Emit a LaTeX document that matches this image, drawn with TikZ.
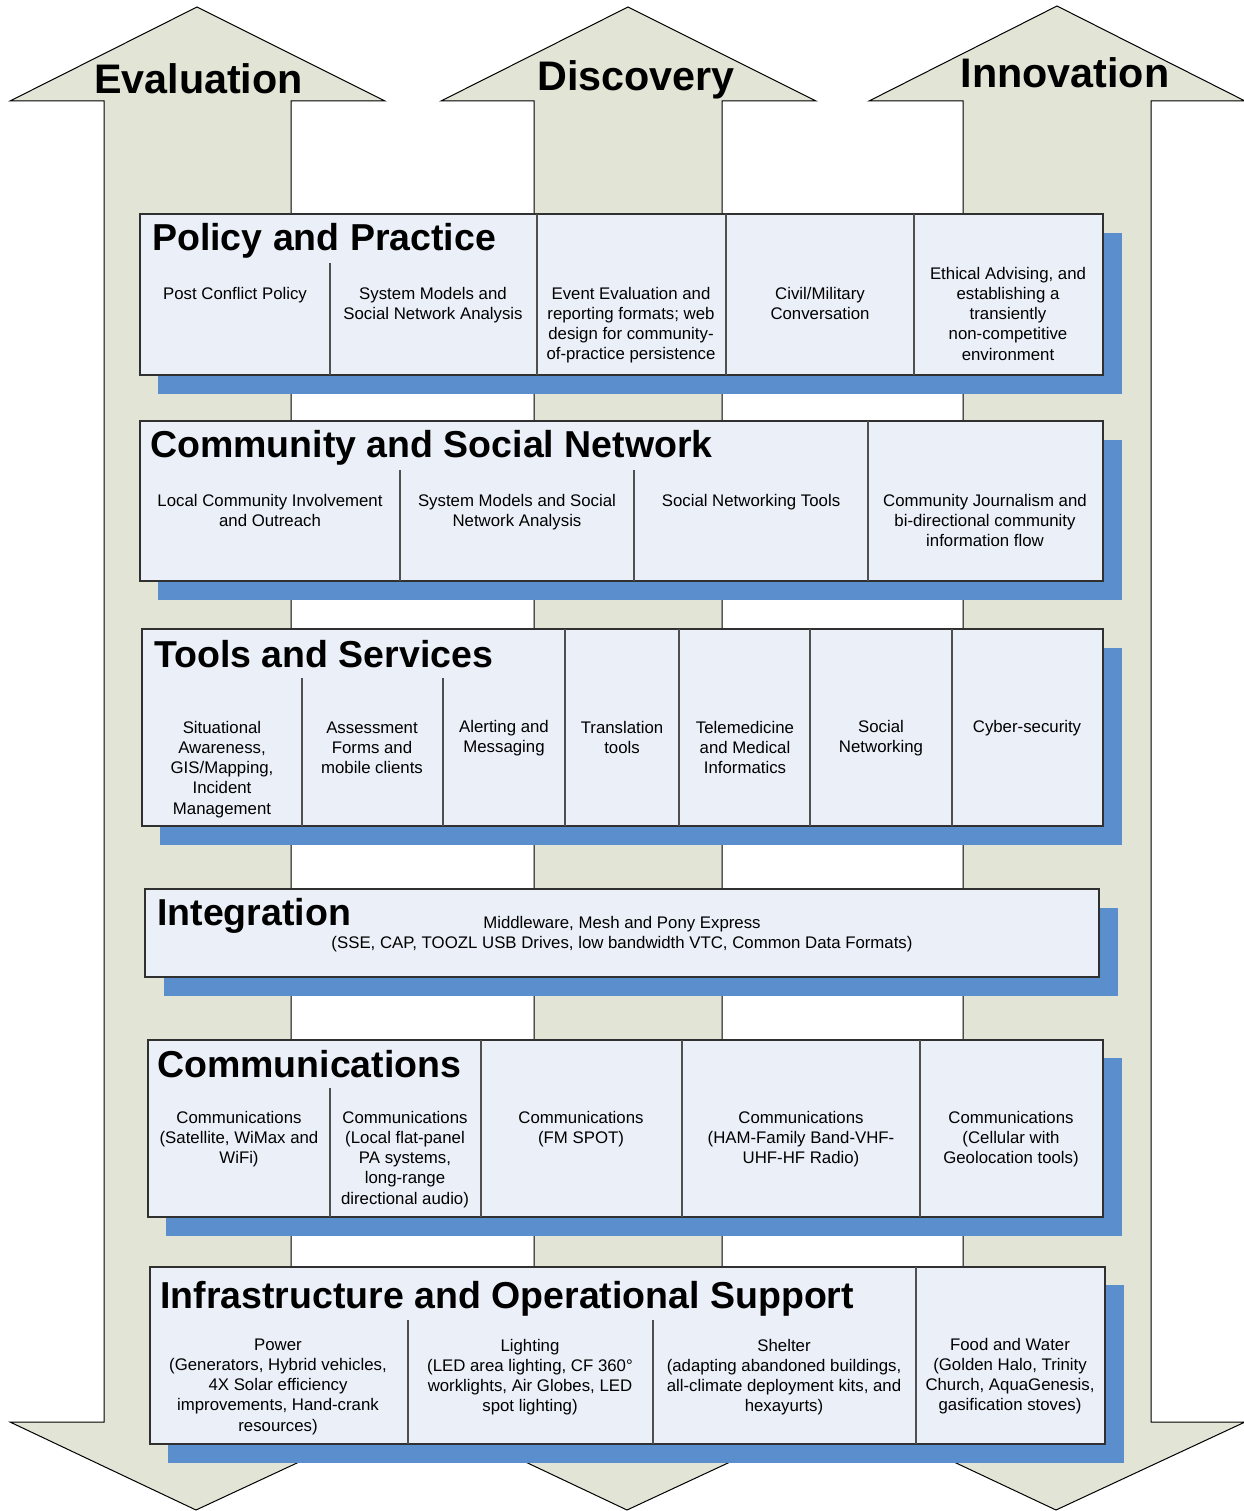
\documentclass[tikz,border=0pt]{standalone}
\usepackage{fontspec}
\setmainfont{Liberation Sans}
\definecolor{arrowfill}{HTML}{E2E4D6}
\definecolor{boxfill}{HTML}{EAEFF8}
\definecolor{shadowblue}{HTML}{5A8ECD}
\definecolor{edgecol}{HTML}{303030}
\begin{document}
\begin{tikzpicture}[x=1pt,y=-1pt,
  arrowshape/.style={fill=arrowfill,draw=black,line width=1pt,line join=miter},
  shadowrect/.style={fill=shadowblue},
  panel/.style={fill=boxfill,draw=edgecol,line width=1.4pt},
  divider/.style={draw=edgecol!85,line width=1.4pt},
  arrowlabel/.style={font=\fontsize{41.3}{48}\selectfont\bfseries,anchor=base,inner sep=0pt},
  rowtitle/.style={font=\fontsize{37.5}{44}\selectfont\bfseries,anchor=base west,inner sep=0pt},
  itemtxt/.style={font=\fontsize{16.8}{20.2}\selectfont,align=center,anchor=north,inner sep=0pt},
]
\useasboundingbox[fill=white] (0,0) rectangle (1243,1511);

% ---------- double-headed arrows ----------
\draw[arrowshape] (104,1422) -- (104,101) -- (10,101) -- (197,7) -- (385,101) -- (291,101)
  -- (291,1422) -- (385,1422) -- (196,1510) -- (10,1422) -- cycle;
\draw[arrowshape] (534,1422) -- (534,101) -- (441,101) -- (628,7) -- (816,101) -- (722,101)
  -- (722,1422) -- (816,1422) -- (627,1510) -- (441,1422) -- cycle;
\draw[arrowshape] (963,1422) -- (963,101) -- (869,101) -- (1057,6) -- (1245,101) -- (1151,101)
  -- (1151,1422) -- (1245,1422) -- (1056,1510) -- (869,1422) -- cycle;

\node[arrowlabel] (evaluation) at (198.5,94) {Evaluation};
\node[arrowlabel] (discovery) at (636,91) {Discovery};
\node[arrowlabel] (innovation) at (1065,88) {Innovation};

% ---------- Row 1: Policy and Practice ----------
\fill[shadowrect] (158,233) rectangle (1122,394);
\draw[panel] (140,214) rectangle (1103,375);
\draw[divider] (330,263) -- (330,375);
\draw[divider] (537,214) -- (537,375);
\draw[divider] (726,214) -- (726,375);
\draw[divider] (914,214) -- (914,375);
\node[rowtitle] (policy) at (152,251) {Policy and Practice};
\node[itemtxt] (p1) at (235,285) {\strut Post Conflict Policy};
\node[itemtxt] (p2) at (433,285) {\strut System Models and\\Social Network Analysis};
\node[itemtxt] (p3) at (631,285) {\strut Event Evaluation and\\reporting formats; web\\design for community-\\of-practice persistence};
\node[itemtxt] (p4) at (820,285) {\strut Civil/Military\\Conversation};
\node[itemtxt] (p5) at (1008,265) {\strut Ethical Advising, and\\establishing a\\transiently\\non-competitive\\environment};

% ---------- Row 2: Community and Social Network ----------
\fill[shadowrect] (158,440) rectangle (1122,600);
\draw[panel] (140,421) rectangle (1103,581);
\draw[divider] (400,470) -- (400,581);
\draw[divider] (634,470) -- (634,581);
\draw[divider] (868,421) -- (868,581);
\node[rowtitle] (community) at (150,457) {Community and Social Network};
\node[itemtxt] (c1) at (270,492) {\strut Local Community Involvement\\and Outreach};
\node[itemtxt] (c2) at (517,492) {\strut System Models and Social\\Network Analysis};
\node[itemtxt] (c3) at (751,492) {\strut Social Networking Tools};
\node[itemtxt] (c4) at (985,492) {\strut Community Journalism and\\bi-directional community\\information flow};

% ---------- Row 3: Tools and Services ----------
\fill[shadowrect] (160,648) rectangle (1122,845);
\draw[panel] (142,629) rectangle (1103,826);
\draw[divider] (302,678) -- (302,826);
\draw[divider] (443,678) -- (443,826);
\draw[divider] (565,629) -- (565,826);
\draw[divider] (679,629) -- (679,826);
\draw[divider] (810,629) -- (810,826);
\draw[divider] (952,629) -- (952,826);
\node[rowtitle] (tools) at (154,667) {Tools and Services};
\node[itemtxt] (t1) at (222,719) {\strut Situational\\Awareness,\\GIS/Mapping,\\Incident\\Management};
\node[itemtxt] (t2) at (372,719) {\strut Assessment\\Forms and\\mobile clients};
\node[itemtxt] (t3) at (504,718) {\strut Alerting and\\Messaging};
\node[itemtxt] (t4) at (622,719) {\strut Translation\\tools};
\node[itemtxt] (t5) at (745,719) {\strut Telemedicine\\and Medical\\Informatics};
\node[itemtxt] (t6) at (881,718) {\strut Social\\Networking};
\node[itemtxt] (t7) at (1027,718) {\strut Cyber-security};

% ---------- Row 4: Integration ----------
\fill[shadowrect] (164,908) rectangle (1118,996);
\draw[panel] (145,889) rectangle (1099,977);
\node[rowtitle] (integration) at (157,925) {Integration};
\node[itemtxt] (i1) at (622,914) {\strut Middleware, Mesh and Pony Express\\(SSE, CAP, TOOZL USB Drives, low bandwidth VTC, Common Data Formats)};

% ---------- Row 5: Communications ----------
\fill[shadowrect] (166,1058) rectangle (1122,1236);
\draw[panel] (148,1040) rectangle (1103,1217);
\draw[divider] (330,1088) -- (330,1217);
\draw[divider] (481,1040) -- (481,1217);
\draw[divider] (682,1040) -- (682,1217);
\draw[divider] (920,1040) -- (920,1217);
\node[rowtitle] (comms) at (157,1077) {Communications};
\node[itemtxt] (m1) at (239,1109) {\strut Communications\\(Satellite, WiMax and\\WiFi)};
\node[itemtxt] (m2) at (405,1109) {\strut Communications\\(Local flat-panel\\PA systems,\\long-range\\directional audio)};
\node[itemtxt] (m3) at (581,1109) {\strut Communications\\(FM SPOT)};
\node[itemtxt] (m4) at (801,1109) {\strut Communications\\(HAM-Family Band-VHF-\\UHF-HF Radio)};
\node[itemtxt] (m5) at (1011,1109) {\strut Communications\\(Cellular with\\Geolocation tools)};

% ---------- Row 6: Infrastructure and Operational Support ----------
\fill[shadowrect] (168,1285) rectangle (1124,1463);
\draw[panel] (150,1267) rectangle (1105,1444);
\draw[divider] (408,1320) -- (408,1444);
\draw[divider] (653,1320) -- (653,1444);
\draw[divider] (916,1267) -- (916,1444);
\node[rowtitle] (infra) at (160,1308) {Infrastructure and Operational Support};
\node[itemtxt] (f1) at (278,1336) {\strut Power\\(Generators, Hybrid vehicles,\\4X Solar efficiency\\improvements, Hand-crank\\resources)};
\node[itemtxt] (f2) at (530,1337) {\strut Lighting\\(LED area lighting, CF 360°\\worklights, Air Globes, LED\\spot lighting)};
\node[itemtxt] (f3) at (784,1337) {\strut Shelter\\(adapting abandoned buildings,\\all-climate deployment kits, and\\hexayurts)};
\node[itemtxt] (f4) at (1010,1336) {\strut Food and Water\\(Golden Halo, Trinity\\Church, AquaGenesis,\\gasification stoves)};
\end{tikzpicture}
\end{document}
